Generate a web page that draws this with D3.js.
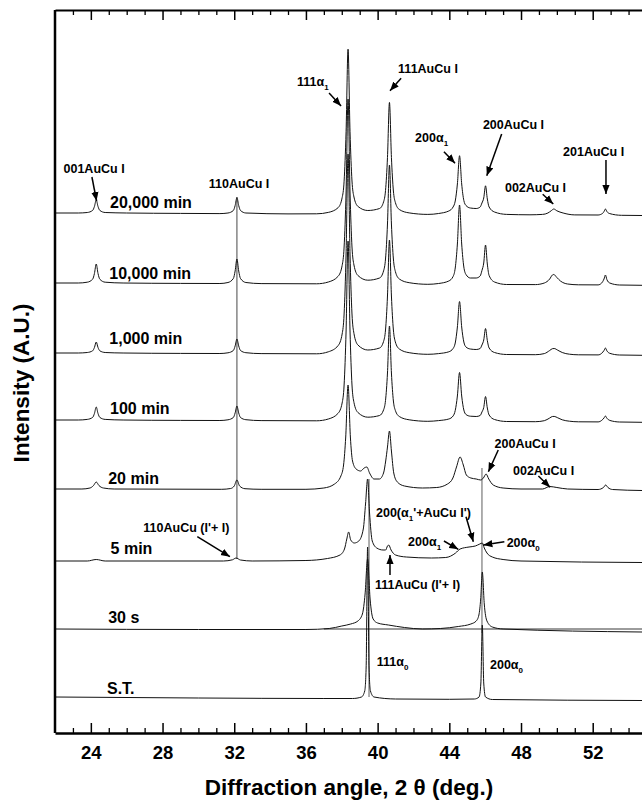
<!DOCTYPE html>
<html>
<head>
<meta charset="utf-8">
<script src="https://cdn.jsdelivr.net/npm/d3@7"></script>
<style>
  body { margin: 0; background: #fff; }
  svg text { font-family: "Liberation Sans", Arial, Helvetica, sans-serif; font-weight: bold; fill: #000; }
</style>
</head>
<body>
<div id="chart"></div>
<script>
// XRD patterns, one array per ageing time: [2theta (deg), intensity above own baseline]
const trace20000 = [[22,0],[23.3,0],[23.8,0.5],[24.1,2.6],[24.2,6.5],[24.3,13],[24.4,6.5],[24.5,2.6],[24.8,0.5],[26,0],[29,-0.4],[31.2,-0.6],[31.65,0],[31.95,2.5],[32.05,7.4],[32.15,15.4],[32.25,7.4],[32.35,2.5],[32.65,0],[35,-0.9],[36.6,-0.8],[37.25,0.6],[37.8,5.4],[38.02,15.3],[38.13,31.8],[38.24,81.3],[38.35,163.8],[38.46,81.3],[38.57,32],[38.68,16],[38.9,6.6],[39.45,2.5],[40.11,4.5],[40.33,11],[40.44,22.4],[40.55,55.5],[40.66,110.6],[40.77,55.5],[40.88,22],[40.99,10.5],[41.21,3.5],[41.76,0.1],[42.8,-1.4],[43.4,-0.5],[43.97,2],[44.21,6],[44.33,12],[44.45,29],[44.57,57.3],[44.69,29],[44.81,12.5],[44.93,7.5],[45.17,5],[45.5,4.5],[45.72,6],[45.82,10],[45.92,15],[46.02,27.2],[46.12,14],[46.22,6],[46.52,1],[47.2,-1.4],[48.5,-1.8],[49.2,-1.4],[49.5,0],[49.68,2.2],[49.83,4],[50.0,2.2],[50.35,0],[51,-1.9],[52.3,-2],[52.55,-0.4],[52.63,1.5],[52.71,4],[52.79,1.5],[52.95,-0.6],[53.6,-2.3],[54.75,-2.5]];
const trace10000 = [[22,0],[23.3,0],[23.8,0.8],[24.1,3.8],[24.2,9.5],[24.3,19],[24.4,9.5],[24.5,3.8],[24.8,0.8],[25.8,0],[29,-0.4],[31.2,-0.5],[31.65,0.5],[31.95,4.5],[32.05,12],[32.15,24],[32.25,12],[32.35,4.5],[32.65,0.5],[33.5,-0.6],[36.6,-0.8],[37.25,1],[37.8,6.8],[38.02,17.5],[38.13,36],[38.24,91],[38.35,184],[38.46,91],[38.57,36],[38.68,18],[38.9,7.5],[39.45,2.8],[40.11,5],[40.33,12],[40.44,24],[40.55,59],[40.66,118],[40.77,59],[40.88,24],[40.99,11.5],[41.21,4],[41.76,0.3],[42.8,-1.3],[43.4,-0.5],[43.97,2],[44.21,6.5],[44.33,15],[44.45,39],[44.57,78],[44.69,39],[44.81,16],[44.93,8.5],[45.17,5],[45.5,5],[45.72,7],[45.82,12.5],[45.92,20],[46.02,38],[46.12,19],[46.22,7.5],[46.52,1],[47.2,-1.5],[48.8,-1.6],[49.3,0],[49.6,4],[49.75,8],[49.83,8.5],[50.0,5.5],[50.2,2],[50.6,-1],[51.2,-1.8],[52.3,-1.9],[52.5,0],[52.63,4],[52.71,8],[52.79,3.5],[52.95,0],[53.5,-2],[54.75,-2.3]];
const trace1000 = [[22,0],[23.3,0],[23.8,0.5],[24.1,2.2],[24.2,5.5],[24.3,11],[24.4,5.5],[24.5,2.2],[24.8,0.5],[25.8,0],[29,-0.4],[31.2,-0.5],[31.65,0.2],[31.95,2.5],[32.05,7],[32.15,14],[32.25,7],[32.35,2.5],[32.65,0.3],[33.5,-0.6],[36.6,-0.8],[37.25,1.2],[37.8,7.5],[38.02,19],[38.13,39],[38.24,99],[38.35,199],[38.46,99],[38.57,39],[38.68,19.5],[38.9,8],[39.45,3],[40.11,5],[40.33,11.5],[40.44,23],[40.55,57],[40.66,113],[40.77,57],[40.88,23],[40.99,11],[41.21,4],[41.76,0.3],[42.8,-1.3],[43.4,-0.6],[43.97,1.2],[44.21,4.5],[44.33,10],[44.45,26],[44.57,51.5],[44.69,26],[44.81,11],[44.93,6],[45.17,4],[45.5,3.5],[45.72,4.5],[45.82,8],[45.92,13],[46.02,24.5],[46.12,12.5],[46.22,5],[46.52,0.5],[47.2,-1.5],[48.8,-1.7],[49.3,-0.6],[49.6,2.5],[49.75,4.3],[49.85,4.5],[50.05,2.8],[50.3,0.5],[50.7,-1.2],[51.2,-1.8],[52.3,-1.9],[52.5,-0.3],[52.63,2.5],[52.71,5],[52.79,2.2],[52.95,-0.3],[53.5,-2],[54.75,-2.3]];
const trace100 = [[22,0],[23.3,0],[23.8,0.6],[24.1,2.6],[24.2,6.5],[24.3,13],[24.4,6.5],[24.5,2.6],[24.8,0.6],[25.8,0],[29,-0.4],[31.2,-0.5],[31.65,0.2],[31.95,2.5],[32.05,7],[32.15,14],[32.25,7],[32.35,2.5],[32.65,0.3],[33.5,-0.6],[36.6,-0.8],[37.25,1],[37.8,6.8],[38.02,17],[38.13,35],[38.24,89],[38.35,179],[38.46,89],[38.57,35],[38.68,17.5],[38.9,7.5],[39.45,2.8],[40.11,4.5],[40.33,10],[40.44,19.5],[40.55,47],[40.66,94],[40.77,47],[40.88,19],[40.99,9.5],[41.21,3.5],[41.76,0.2],[42.8,-1.3],[43.4,-0.6],[43.97,1],[44.21,4],[44.33,9.5],[44.45,24],[44.57,47.5],[44.69,24],[44.81,10],[44.93,5.5],[45.17,3.8],[45.5,3.5],[45.72,4.5],[45.82,8],[45.92,12.5],[46.02,23.5],[46.12,12],[46.22,5],[46.52,0.5],[47.2,-1.5],[48.8,-1.7],[49.3,-0.7],[49.6,2],[49.75,3.5],[49.85,3.6],[50.05,2.2],[50.3,0.2],[50.7,-1.2],[51.2,-1.8],[52.3,-1.9],[52.5,-0.4],[52.63,2],[52.71,4],[52.79,1.8],[52.95,-0.4],[53.5,-2],[54.75,-2.3]];
const trace20 = [[22,0],[23.5,0],[23.95,1],[24.15,3.5],[24.3,7],[24.45,3.5],[24.7,1],[25.3,0],[31.3,-0.3],[31.8,0.5],[32.0,3],[32.15,9],[32.3,3],[32.6,0.3],[33.5,-0.3],[36,-0.3],[37.0,1],[37.6,5],[37.95,13],[38.1,24],[38.22,52],[38.35,104],[38.48,52],[38.6,28],[38.8,20],[39.05,18],[39.25,21],[39.4,22],[39.55,16],[39.8,10],[40.1,10],[40.33,16],[40.45,28],[40.55,42],[40.66,58],[40.77,38],[40.9,16],[41.1,7],[41.5,3],[42.5,1],[43.3,1.5],[43.9,5],[44.2,11],[44.4,22],[44.6,32],[44.78,24],[44.95,14],[45.2,11],[45.5,10],[45.75,9],[45.9,11],[46.05,15],[46.2,10],[46.45,4],[47,1],[48,0],[49.2,0],[49.6,2.5],[50.0,1.5],[50.6,0],[52.3,-0.5],[52.6,1.5],[52.72,4],[52.85,1.5],[53.1,-0.5],[54.75,-1.5]];
const trace5 = [[22,0],[23.8,0],[24.3,1.5],[24.8,0],[31.4,0],[31.9,1.2],[32.1,3],[32.35,1],[33,0],[36,0.5],[37.2,2.5],[37.9,6],[38.15,12],[38.28,22],[38.38,29],[38.5,21],[38.7,18],[38.95,20],[39.2,32],[39.33,58],[39.44,82],[39.55,48],[39.7,20],[39.95,13],[40.3,11],[40.45,11],[40.55,15],[40.62,16],[40.75,11],[41.0,6],[41.6,4],[43.0,3],[43.8,3.5],[44.35,8],[44.6,12],[45.1,14],[45.45,15],[45.7,17],[45.84,18],[45.95,13],[46.1,8],[46.4,4],[47,1.5],[48,0],[54.75,-1.5]];
const trace30s = [[22,0],[30,-0.5],[36,-0.5],[37.3,0.5],[38,3],[38.5,5],[38.9,8],[39.15,15],[39.3,35],[39.44,70],[39.58,30],[39.75,10],[40.0,6],[40.6,4],[41.5,1.5],[42.5,0],[43.5,0.5],[44.5,2.5],[45.2,5],[45.5,8],[45.65,14],[45.75,30],[45.84,57],[45.95,25],[46.1,8],[46.4,2],[47,0],[54.75,-3]];
const traceST = [[22,0],[30,-1],[37,-1.5],[38.6,-1.5],[39.1,0],[39.28,6],[39.36,30],[39.44,150],[39.52,30],[39.6,6],[39.8,0],[41,-2],[44,-2.3],[45.4,-2],[45.66,0],[45.76,14],[45.84,72],[45.92,14],[46.02,0],[46.4,-2.5],[54.75,-3.5]];

const traceNames = ["20,000 min", "10,000 min", "1,000 min", "100 min", "20 min", "5 min", "30 s", "S.T."];
const traceOffsets = [520, 450, 380, 313, 244, 172, 104, 36];
const labelAngles = [25.07, 25.03, 25.03, 25.07, 24.97, 25.1, 24.97, 24.9];
const labelLevels = [525, 454, 389, 319, 249, 179, 110, 39];

const xTicksMajor = [24, 28, 32, 36, 40, 44, 48, 52];
const xTicksMinor = [23, 25, 26, 27, 29, 30, 31, 33, 34, 35, 37, 38, 39, 41, 42, 43, 45, 46, 47, 49, 50, 51, 53, 54];

// guide lines: [angle, from level, to level] and the horizontal one [angle, level]
const guideV = [[32.15, 174, 536], [39.52, 36, 254], [45.82, 100, 265]];
const guideGrey = [false, true, true];
const guideH = [[37.0, 104], [54.75, 104]];

// peak labels: text pieces alternate normal / subscript
const annoTexts = [
  ["001AuCu I"], ["110AuCu I"], ["111α", "1"], ["111AuCu I"], ["200α", "1"], ["200AuCu I"], ["201AuCu I"], ["002AuCu I"],
  ["200AuCu I"], ["002AuCu I"], ["200(α", "1", "'+AuCu I')"], ["200α", "1"], ["200α", "0"],
  ["111AuCu (I'+ I)"], ["110AuCu (I'+ I)"], ["111α", "0"], ["200α", "0"]
];
const annoAnchor = ["middle", "middle", "start", "middle", "start", "middle", "middle", "middle",
  "middle", "middle", "start", "start", "start", "start", "start", "start", "start"];
const annoPos = [[24.18, 560.5], [32.27, 545.5], [35.50, 647.5], [42.81, 660.5], [42.09, 591.5], [47.58, 604.5], [52.05, 577.5], [48.81, 541.5],
  [48.23, 285.5], [49.26, 258.5], [39.91, 216], [41.70, 187], [47.20, 186], [39.85, 144.5], [26.93, 201], [39.95, 67], [46.27, 64.5]];
const annoArrows = [
  [24.06, 556, 24.32, 532], null, [37.29, 640, 37.96, 627], [41.31, 654.7, 40.69, 642.3],
  [43.70, 581.3, 44.32, 569.7], [46.92, 599, 46.09, 557.3], [52.74, 573, 52.74, 539], [49.21, 538.7, 49.80, 529],
  [46.73, 283, 46.18, 261.3], [48.97, 257, 49.62, 245.7], [44.93, 216.3, 45.34, 191.3], [43.70, 192, 44.50, 183.7],
  [47.07, 191.3, 45.90, 188], [40.69, 158, 40.69, 178], [29.94, 196.3, 31.76, 176.3], null, null
];

window.addEventListener('DOMContentLoaded', function() {
  const traces = [trace20000, trace10000, trace1000, trace100, trace20, trace5, trace30s, traceST];
  const W = 642, H = 800;

  const svg = d3.select("#chart").append("svg")
    .attr("width", W)
    .attr("height", H);

  // the right edge of the original frame is cut off, so the scale runs past it
  const x = d3.scaleLinear().domain([22, 54.75]).range([55, 642]);
  const y = d3.scaleLinear().domain([0, 723]).range([733, 10]);

  svg.append("defs").append("marker")
    .attr("id", "arrow")
    .attr("viewBox", "0 0 10 8")
    .attr("refX", 10)
    .attr("refY", 4)
    .attr("markerWidth", 9)
    .attr("markerHeight", 8)
    .attr("markerUnits", "userSpaceOnUse")
    .attr("orient", "auto")
    .append("path")
    .attr("d", "M0,0L10,4L0,8Z")
    .attr("fill", "#000");

  // guide lines first so the traces sit on top
  guideV.forEach(function(g, i) {
    svg.append("line")
      .attr("x1", x(g[0])).attr("x2", x(g[0]))
      .attr("y1", y(g[1])).attr("y2", y(g[2]))
      .attr("stroke", guideGrey[i] ? "#9a9a9a" : "#333")
      .attr("stroke-width", guideGrey[i] ? 1.6 : 0.9);
  });
  svg.append("line")
    .attr("x1", x(guideH[0][0])).attr("x2", x(guideH[1][0]))
    .attr("y1", y(guideH[0][1])).attr("y2", y(guideH[1][1]))
    .attr("stroke", "#222")
    .attr("stroke-width", 0.9);

  // traces
  traces.forEach(function(pts, i) {
    const off = traceOffsets[i];
    const line = d3.line()
      .x(d => x(d[0]))
      .y(d => y(d[1] + off))
      .curve(d3.curveMonotoneX);
    svg.append("path")
      .datum(pts)
      .attr("fill", "none")
      .attr("stroke", "#111")
      .attr("stroke-width", 1)
      .attr("d", line);

    svg.append("text")
      .attr("x", x(labelAngles[i]))
      .attr("y", y(labelLevels[i]))
      .style("font-size", "16px")
      .text(traceNames[i]);
  });

  // peak labels + arrows
  annoTexts.forEach(function(parts, i) {
    const t = svg.append("text")
      .attr("x", x(annoPos[i][0]))
      .attr("y", y(annoPos[i][1]))
      .attr("text-anchor", annoAnchor[i])
      .style("font-size", "12.5px");
    parts.forEach(function(p, j) {
      const sub = j % 2 === 1;
      t.append("tspan")
        .attr("dy", sub ? 4 : (j > 0 ? -4 : 0))
        .style("font-size", sub ? "8px" : null)
        .text(p);
    });
    const a = annoArrows[i];
    if (a) {
      svg.append("line")
        .attr("x1", x(a[0])).attr("y1", y(a[1]))
        .attr("x2", x(a[2])).attr("y2", y(a[3]))
        .attr("stroke", "#000")
        .attr("stroke-width", 1.5)
        .attr("marker-end", "url(#arrow)");
    }
  });

  // bottom axis, ticks point inward
  const bottom = svg.append("g")
    .attr("transform", "translate(0,733)")
    .call(d3.axisBottom(x).tickValues(xTicksMajor).tickSize(-10).tickSizeOuter(0).tickPadding(13).tickFormat(d3.format("d")));
  bottom.select(".domain").attr("stroke-width", 2.5);
  bottom.selectAll(".tick line").attr("stroke-width", 1.5);
  bottom.selectAll("text")
    .attr("font-family", null)
    .style("font-size", "18.5px");
  const bottomMinor = svg.append("g")
    .attr("transform", "translate(0,733)")
    .call(d3.axisBottom(x).tickValues(xTicksMinor).tickSize(-5).tickFormat(""));
  bottomMinor.select(".domain").remove();
  bottomMinor.selectAll(".tick line").attr("stroke-width", 1.3);

  // top axis, no labels
  const top = svg.append("g")
    .attr("transform", "translate(0,10)")
    .call(d3.axisTop(x).tickValues(xTicksMajor).tickSize(-10).tickSizeOuter(0).tickFormat(""));
  top.select(".domain").attr("stroke-width", 2.2);
  top.selectAll(".tick line").attr("stroke-width", 1.5);
  const topMinor = svg.append("g")
    .attr("transform", "translate(0,10)")
    .call(d3.axisTop(x).tickValues(xTicksMinor).tickSize(-5).tickFormat(""));
  topMinor.select(".domain").remove();
  topMinor.selectAll(".tick line").attr("stroke-width", 1.3);

  // left frame line
  svg.append("line")
    .attr("x1", x(22)).attr("x2", x(22))
    .attr("y1", y(723)).attr("y2", y(0))
    .attr("stroke", "#000")
    .attr("stroke-width", 2.5);

  // axis titles
  svg.append("text")
    .attr("x", 349)
    .attr("y", 795)
    .attr("text-anchor", "middle")
    .style("font-size", "22.5px")
    .text("Diffraction angle, 2 θ (deg.)");

  svg.append("text")
    .attr("transform", "translate(29,383) rotate(-90)")
    .attr("text-anchor", "middle")
    .style("font-size", "22.5px")
    .text("Intensity (A.U.)");
});
</script>
</body>
</html>
